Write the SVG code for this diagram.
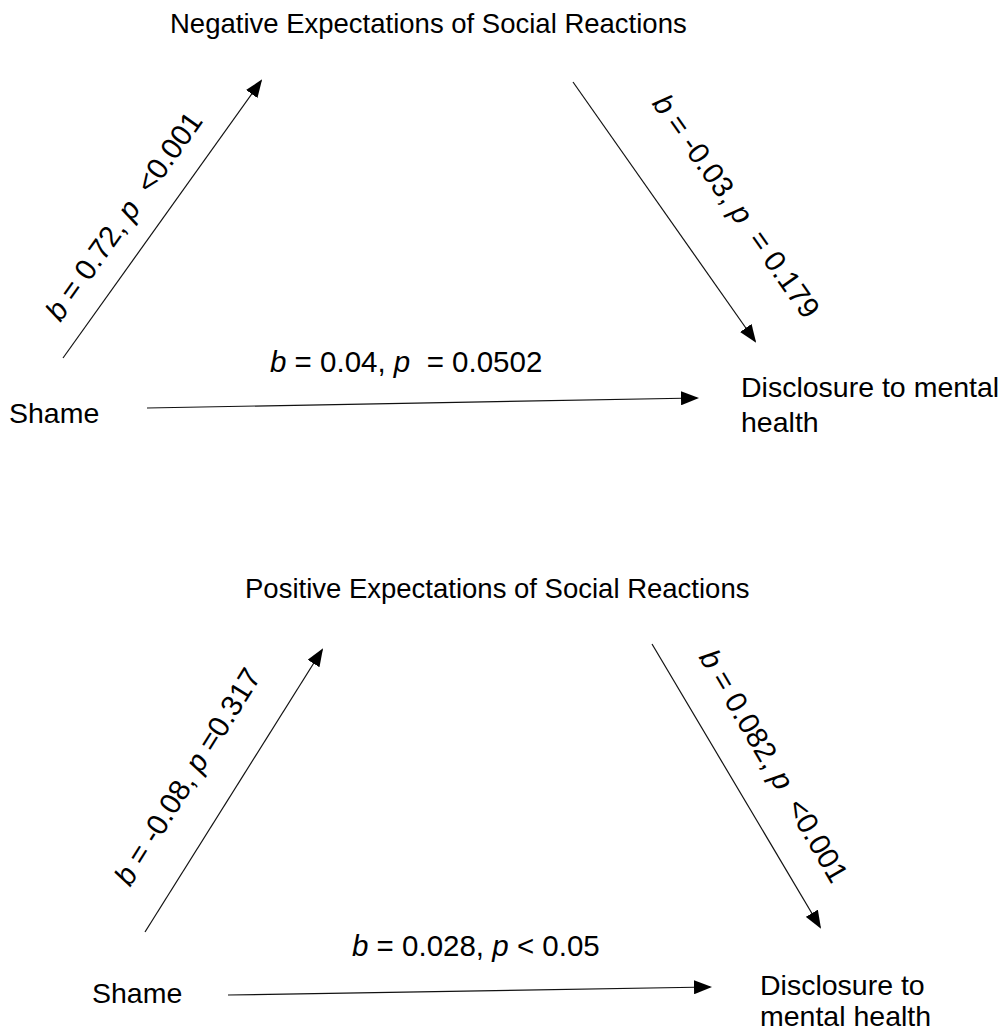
<svg xmlns="http://www.w3.org/2000/svg" width="1008" height="1032" viewBox="0 0 1008 1032">
<defs>
<style>
text{font-family:"Liberation Sans",Arial,sans-serif;font-size:28.5px;fill:#000;white-space:pre}
.ttl{font-size:27.5px}
.lbl{font-size:29.5px}
.it{font-style:italic}
.edge{stroke:#111;stroke-width:1.2;fill:none;marker-end:url(#ah)}
</style>
<marker id="ah" markerUnits="userSpaceOnUse" markerWidth="18" markerHeight="14" viewBox="0 0 18 14" refX="16" refY="7" orient="auto">
<path d="M0,0 L18,7 L0,14 z" fill="#000"/>
</marker>
</defs>
<rect width="1008" height="1032" fill="#fff"/>
<g id="connectors">
<line class="edge" x1="63" y1="358" x2="261" y2="81"/>
<line class="edge" x1="573" y1="82" x2="755" y2="341"/>
<line class="edge" x1="147" y1="408" x2="697" y2="398"/>
<line class="edge" x1="145" y1="932" x2="322" y2="650"/>
<line class="edge" x1="652" y1="644" x2="820" y2="927"/>
<line class="edge" x1="228" y1="995" x2="710" y2="987"/>
</g>
<g id="edge-labels">
<text class="lbl" transform="translate(132,222) rotate(-54.6)" text-anchor="middle"><tspan class="it">b</tspan> = 0.72, <tspan class="it">p</tspan>  &lt;0.001</text>
<text class="lbl" transform="translate(728,212) rotate(54.7)" text-anchor="middle"><tspan class="it">b</tspan> = -0.03, <tspan class="it">p</tspan>  = 0.179</text>
<text class="lbl" x="270" y="372"><tspan class="it">b</tspan> = 0.04, <tspan class="it">p</tspan>  = 0.0502</text>
<text class="lbl" transform="translate(196,782) rotate(-58)" text-anchor="middle"><tspan class="it">b</tspan> = -0.08, <tspan class="it">p</tspan> =0.317</text>
<text class="lbl" transform="translate(765,771) rotate(59.6)" text-anchor="middle"><tspan class="it">b</tspan> = 0.082, <tspan class="it">p</tspan>  &lt;0.001</text>
<text class="lbl" x="352" y="956"><tspan class="it">b</tspan> = 0.028, <tspan class="it">p</tspan> &lt; 0.05</text>
</g>
<g id="node-neg"><text class="ttl" x="170" y="33">Negative Expectations of Social Reactions</text></g>
<g id="node-shame1"><text x="9" y="423">Shame</text></g>
<g id="node-disc1"><text x="741" y="397">Disclosure to mental</text><text x="741" y="432">health</text></g>
<g id="node-pos"><text class="ttl" x="245" y="598">Positive Expectations of Social Reactions</text></g>
<g id="node-shame2"><text x="92" y="1003">Shame</text></g>
<g id="node-disc2"><text x="760" y="995">Disclosure to</text><text x="760" y="1026">mental health</text></g>
</svg>
